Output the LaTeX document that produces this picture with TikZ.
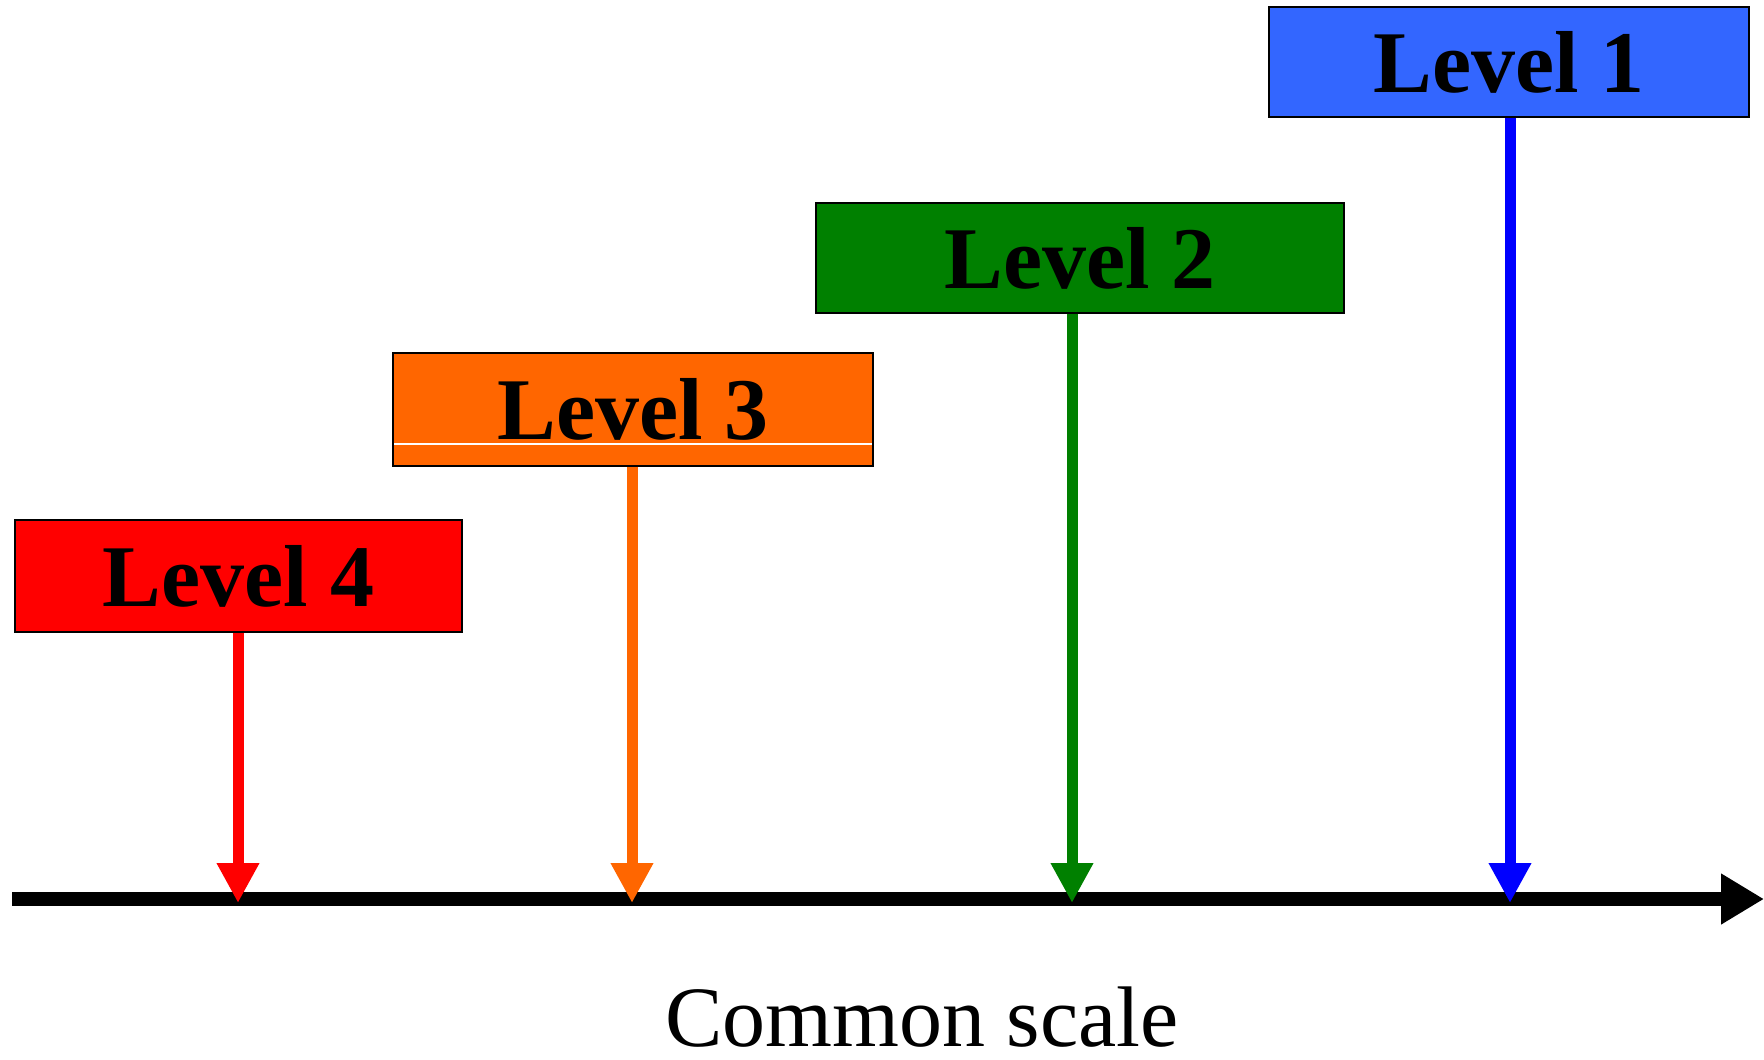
\documentclass[tikz,border=0pt]{standalone}
\usepackage{fontspec}
\setmainfont{Liberation Serif}
\usetikzlibrary{arrows.meta}
\definecolor{lvlblue}{HTML}{3366FF}
\definecolor{lvlgreen}{HTML}{008000}
\definecolor{lvlorange}{HTML}{FF6600}
\definecolor{lvlred}{HTML}{FF0000}
\definecolor{arrblue}{HTML}{0000FF}
\begin{document}
\begin{tikzpicture}[x=0.5pt,y=-0.5pt,
  level/.style={draw=black,line width=0.75pt,inner sep=0pt,font=\fontsize{44}{50}\selectfont\bfseries},
  post/.style={-{Triangle[width=20pt,length=20pt]},line width=5.5pt}]

\useasboundingbox (0,0) rectangle (1764,1059);

\tikzstyle{every node} = [level];
\node [fill=lvlblue, minimum width=240pt, minimum height=55pt] (lvl1) at (1509,62) {Level 1};
\node [fill=lvlgreen, minimum width=264pt, minimum height=55pt] (lvl2) at (1080,258) {Level 2};
\node [fill=lvlorange, minimum width=240pt, minimum height=56.5pt] (lvl3) at (633,409.5) {Level 3};
\node [fill=lvlred, minimum width=223.5pt, minimum height=56pt] (lvl4) at (238.5,576) {Level 4};

\draw [white,line width=0.7pt] ([xshift=1pt]lvl3.west |- 0,444) -- ([xshift=-1pt]lvl3.east |- 0,444);

% common scale
\coordinate (s0) at (12,899);
\coordinate (s1) at (1764,899);
\draw [-{Triangle[width=24pt,length=21.5pt]},line width=6.75pt] (s0) -- (s1);

\coordinate (a1) at (1510,903);
\coordinate (a2) at (1072,903);
\coordinate (a3) at (632,903);
\coordinate (a4) at (238,903);

\foreach \i/\c in {1/arrblue, 2/lvlgreen, 3/lvlorange, 4/lvlred}{
\draw [post,\c] (lvl\i.south -| a\i) -- (a\i);
}

\node [draw=none,fill=none,inner sep=0pt,font=\fontsize{43}{50}\selectfont,anchor=base] (scale) at (922,1046) {Common scale};

\end{tikzpicture}
\end{document}
